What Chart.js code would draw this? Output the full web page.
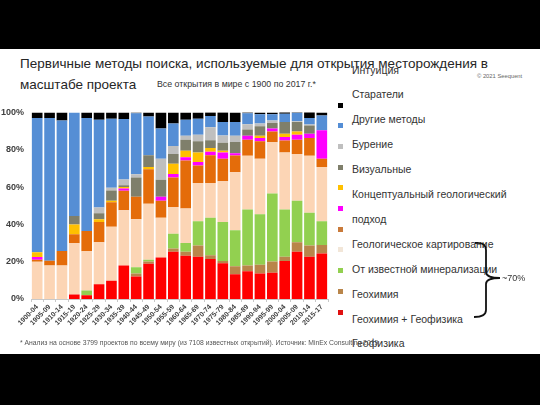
<!DOCTYPE html>
<html>
<head>
<meta charset="utf-8">
<script src="https://cdn.jsdelivr.net/npm/chart.js@4.4.1/dist/chart.umd.min.js"></script>
<style>
  html,body{margin:0;padding:0;}
  body{width:540px;height:405px;background:#000;position:relative;overflow:hidden;font-family:"Liberation Sans",Arial,sans-serif;}
  #sheet{position:absolute;left:0;top:49px;width:540px;height:305px;background:#fff;}
  .t{position:absolute;white-space:nowrap;line-height:1;}
  #chartWrap{position:absolute;left:0;top:100px;width:340px;height:240px;}
  .mk{position:absolute;width:5px;height:5px;}
</style>
</head>
<body>
<div id="sheet"></div>
<div id="chartWrap"><canvas id="c" width="340" height="240"></canvas></div>

<div class="t" style="left:20px;top:56.5px;font-size:13.5px;color:#262626;">Первичные методы поиска, используемые для открытия месторождения в</div>
<div class="t" style="left:20px;top:78px;font-size:13.5px;color:#262626;">масштабе проекта</div>
<div class="t" style="left:157px;top:80px;font-size:8.8px;color:#333;">Все открытия в мире с 1900 по 2017 г.*</div>
<div class="t" style="left:477px;top:74px;font-size:5.8px;color:#666;">© 2021 Seequent</div>

<div id="legText" style="position:absolute;left:352px;top:57.5px;font-size:10.5px;line-height:24.9px;color:#333;white-space:nowrap;"></div>
<div id="legMarks"></div>

<svg style="position:absolute;left:0;top:0;" width="540" height="405">
  <path d="M475,243 Q486,242 486,250 L486,272 Q486,278 500,278 Q486,278 486,284 L486,310 Q486,317 474,317" fill="none" stroke="#111" stroke-width="1.8"/>
</svg>
<div class="t" style="left:502px;top:274px;font-size:9px;color:#333;">~70%</div>

<div class="t" style="left:20px;top:340px;font-size:6.8px;color:#555;">* Анализ на основе 3799 проектов по всему миру (из 7108 известных открытий). Источник: MinEx Consulting 2019</div>

<script>
const categories = ["1900-04","1905-09","1910-14","1915-19","1920-24","1925-29","1930-34","1935-39","1940-44","1945-49","1950-54","1955-59","1960-64","1965-69","1970-74","1975-79","1980-84","1985-89","1990-94","1995-99","2000-04","2005-09","2010-14","2015-17"];

const yTicks = [0,20,40,60,80,100];

const legendLabels = ["Интуиция","Старатели","Другие методы","Бурение","Визуальные","Концептуальный геологический","подход","Геологическое картирование","От известной минерализации","Геохимия","Геохимия + Геофизика","Геофизика"];

// series, bottom of stack first
const redVals     = [0,0,0,2.4,2,7.9,9.8,18,12,18.9,22.3,25.3,23.2,22.7,21.5,19.2,13.2,14.9,13.6,14.1,20.4,25.3,22.7,24.4];
const tanVals     = [0,0,0,0,0,0,0,0,1.6,1.2,0,1.7,2.1,6,2,1.2,4.3,3.1,4.8,6,2.3,5.1,6,4.6];
const greenVals   = [0,0,0,0,2.5,0,0,0,3.4,0.9,0,8,4.7,12.9,20,20.8,19.3,30,27,36.4,25.3,22.3,17.5,12.6];
const peachVals   = [20,18,18,27.5,21.1,22.5,28.9,29.5,25.8,30,21.3,14.3,18.5,20.6,18.6,21.9,31.1,28.8,29.7,27.5,30.5,25,30.6,29.2];
const orangeVals  = [1,2.5,7.7,4.8,10.8,10.8,13.2,10.5,12,18.6,9.1,15.8,25.7,9.4,15,12,9,8.6,9.4,5.7,6.5,7.7,9.5,4.3];
const magentaVals = [1.5,0,0,0,0,0,0,1.2,0,0,2.1,1.9,1.7,1.8,1.8,3.4,1.2,2.1,1.8,1.7,1.8,2.6,2.2,15.4];
const yellowVals  = [2.5,0,0,5.2,0,1.6,0.8,0.8,0,1.2,0,5.5,3.5,5.1,2,1,0,0,1.2,0,1.7,1.7,0,0];
const oliveVals   = [0,0,0,4.6,0,3.1,5.5,1,10.3,6.3,9.1,5.2,6,6,4.2,4.3,6,3.4,5.1,2.9,6.3,5.1,4.5,0];
const grayVals    = [0,0,0,0,0,3.1,1.4,3,1.7,0,11.2,4.3,2.1,3.5,7,3.8,3.4,2.7,1.4,1.4,0,0.5,0.5,0];
const blueVals    = [72,76.5,70,55.5,60.6,47,37,32.5,32.7,20.7,16.3,12,8.5,8.6,6,7.3,7.3,6,5,3.3,4.5,4.5,3.5,7.8];
const blackVals   = [3,3,4.3,0,3,4,3.4,3.5,0.5,2.2,8.6,6,4,3.4,2,5.2,5.2,0.5,1,1,1,0.5,3.4,1.7];

const seriesList = [
  {v:redVals,     c:"#ff0000"},
  {v:tanVals,     c:"#b9854a"},
  {v:greenVals,   c:"#92d050"},
  {v:peachVals,   c:"#fcd5b5"},
  {v:orangeVals,  c:"#e46c0a"},
  {v:magentaVals, c:"#ff00ff"},
  {v:yellowVals,  c:"#ffc000"},
  {v:oliveVals,   c:"#7f7f6b"},
  {v:grayVals,    c:"#bfbfbf"},
  {v:blueVals,    c:"#558ed5"},
  {v:blackVals,   c:"#000000"}
];

// legend marker colours, top to bottom
const markerColors = ["#000000","#558ed5","#bfbfbf","#7f7f6b","#ffc000","#ff00ff","#c97a3a","#f2e6d8","#92d050","#b9854a","#e01010"];

document.getElementById('legText').innerHTML = legendLabels.join('<br>');
const lm = document.getElementById('legMarks');
markerColors.forEach((c,i)=>{
  const d=document.createElement('div');
  d.className='mk';
  d.style.left='337.5px';
  d.style.top=(102.5+20.7*i)+'px';
  d.style.background=c;
  lm.appendChild(d);
});

const datasets = seriesList.map(s=>({
  data:s.v, backgroundColor:s.c, borderWidth:0,
  barPercentage:0.86, categoryPercentage:1.0
}));

new Chart(document.getElementById('c'), {
  type:'bar',
  data:{labels:categories, datasets},
  options:{
    responsive:false, animation:false,
    devicePixelRatio:1,
    layout:{padding:{top:5,right:12,left:0,bottom:0}},
    plugins:{legend:{display:false}, tooltip:{enabled:false}},
    scales:{
      x:{
        stacked:true,
        grid:{display:true, drawOnChartArea:false, tickLength:3, color:'#c8c8c8'},
        border:{display:true, color:'#c8c8c8'},
        ticks:{font:{size:7, weight:'bold', family:'"Liberation Sans", Arial'}, color:'#404040', maxRotation:45, minRotation:45, autoSkip:false, padding:1},
        afterFit(s){ s.height = 41; }
      },
      y:{
        stacked:true, min:0, max:100,
        afterBuildTicks(s){ s.ticks = yTicks.map(v=>({value:v})); },
        ticks:{callback:v=>v+'%', font:{size:9, weight:'bold', family:'"Liberation Sans", Arial'}, color:'#404040', padding:7},
        grid:{display:false, drawTicks:false},
        border:{display:false},
        afterFit(s){ s.width = 31; }
      }
    }
  }
});
</script>
</body>
</html>
